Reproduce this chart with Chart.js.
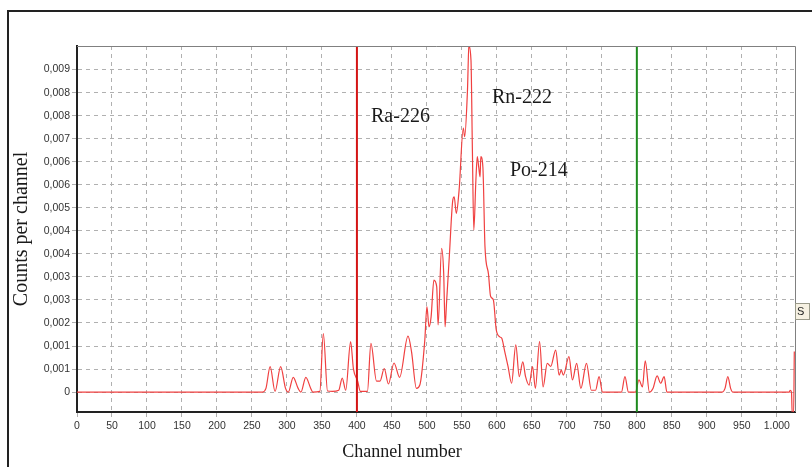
<!DOCTYPE html>
<html>
<head>
<meta charset="utf-8">
<script src="https://cdn.jsdelivr.net/npm/chart.js@4/dist/chart.umd.min.js"></script>
<style>
  html, body { margin: 0; padding: 0; background: #fff; }
  #wrap { position: relative; width: 812px; height: 467px; }
</style>
</head>
<body>
<div id="wrap"><canvas id="spectrum" width="812" height="467"></canvas></div>
<script>
// channel / counts pairs
const channels = [
  0, 265, 270, 276, 283, 291, 298, 302, 309, 316, 320, 327, 334, 337, 347,
  352, 358, 365, 374, 379, 384, 391, 395, 401, 405, 415, 420, 428, 433, 439,
  445, 453, 461, 473, 478, 485, 490, 497, 500, 503, 506, 510, 514, 516, 521,
  524, 526, 528, 532, 537, 539, 542, 546, 552, 554, 558, 560, 563, 565, 567,
  570, 572, 574, 576, 577, 580, 583, 588, 591, 595, 599, 604, 607, 611, 616,
  621, 627, 632, 637, 641, 646, 651, 655, 661, 666, 672, 677, 684, 689, 692,
  695, 703, 708, 714, 720, 728, 735, 741, 746, 751, 778, 783, 788, 798, 803,
  808, 812, 818, 823, 829, 834, 839, 843, 922, 926, 930, 934, 937, 1018, 1019,
  1021, 1022, 1024, 1025
];
const counts = [
  0, 0, 0.0001, 0.00069, 0.00002, 0.00069, 0.0001, 0, 0.0004, 0.0001, 0, 0.0004, 0.0001, 0, 0.00002,
  0.00159, 0.00003, 0.00002, 0.00005, 0.00038, 0.00005, 0.00137, 0.00063, 0.0003, 0.00002, 0.00002, 0.00132, 0.0003, 0.0003, 0.00064,
  0.00022, 0.00079, 0.0004, 0.00152, 0.0011, 0.0001, 0.0002, 0.00141, 0.00232, 0.00177, 0.00204, 0.00304, 0.00286, 0.00182, 0.0039,
  0.00322, 0.00177, 0.0024, 0.00367, 0.00521, 0.0053, 0.00485, 0.00548, 0.00716, 0.00693, 0.0082, 0.0094, 0.009, 0.00657, 0.0044,
  0.00575, 0.00639, 0.00611, 0.00584, 0.00639, 0.0061, 0.00394, 0.0032, 0.0026, 0.0025, 0.0017, 0.0015, 0.00146, 0.00112, 0.00069,
  0.00024, 0.00128, 0.00042, 0.00082, 0.00042, 0.00019, 0.00069, 0.0001, 0.00137, 0.00014, 0.00078, 0.0007, 0.00114, 0.00046, 0.0006,
  0.00046, 0.00096, 0.00033, 0.00078, 0.0001, 0.00078, 0.00005, 0.00005, 0.00042, 0, 0, 0.00042, 0, 0, 0.00033,
  0.00014, 0.00085, 0, 0.0001, 0.00044, 0.00024, 0.00042, 0, 0, 0.0001, 0.00042, 0.0001, 0, 0, 0.00005,
  0, -0.0006, -0.0006, 0.0011
];

// energy window markers
const raChannel = 400;
const poChannel = 800;

// axes
const xMin = 0;
const xMax = 1026;
const yMin = -0.00054;
const yMax = 0.00939;
const xTickValues = [0, 50, 100, 150, 200, 250, 300, 350, 400, 450, 500, 550, 600, 650, 700, 750, 800, 850, 900, 950, 1000];
const xTickLabels = ["0", "50", "100", "150", "200", "250", "300", "350", "400", "450", "500", "550", "600", "650", "700", "750", "800", "850", "900", "950", "1.000"];
const yTickValues = [0, 0.000625, 0.00125, 0.001875, 0.0025, 0.003125, 0.00375, 0.004375, 0.005, 0.005625, 0.00625, 0.006875, 0.0075, 0.008125, 0.00875];
const yTickLabels = ["0", "0,001", "0,001", "0,002", "0,003", "0,003", "0,004", "0,004", "0,005", "0,006", "0,006", "0,007", "0,008", "0,008", "0,009"];

const peakLabels = ["Ra-226", "Rn-222", "Po-214"];

/* --------------------------------------------
   Extra drawing: frame, plot border, texts
-------------------------------------------- */
const decor = {
  id: "decor",
  beforeDraw(chart) {
    const ctx = chart.ctx;
    ctx.save();
    ctx.strokeStyle = "#222";
    ctx.lineWidth = 2;
    ctx.beginPath();
    ctx.moveTo(8, 470);
    ctx.lineTo(8, 11);
    ctx.lineTo(815, 11);
    ctx.stroke();
    ctx.restore();
  },
  afterDraw(chart) {
    const ctx = chart.ctx;
    const a = chart.chartArea;
    ctx.save();
    // top / right border of the plot
    ctx.strokeStyle = "#808080";
    ctx.lineWidth = 1;
    ctx.beginPath();
    ctx.moveTo(a.left, a.top + 0.5);
    ctx.lineTo(a.right + 0.5, a.top + 0.5);
    ctx.lineTo(a.right + 0.5, a.bottom);
    ctx.stroke();

    // peak names
    ctx.fillStyle = "#1a1a1a";
    ctx.font = "20px 'Liberation Serif'";
    ctx.textBaseline = "middle";
    ctx.textAlign = "left";
    ctx.fillText(peakLabels[0], 371, 117);
    ctx.fillText(peakLabels[1], 492, 98);
    ctx.fillText(peakLabels[2], 510, 171);

    // x axis title
    ctx.font = "18px 'Liberation Serif'";
    ctx.textAlign = "center";
    ctx.fillText("Channel number", 402, 452);

    // little cut-off tag on the right edge
    ctx.fillStyle = "#f6f1e2";
    ctx.fillRect(795, 303, 14, 16);
    ctx.strokeStyle = "#9a9a8a";
    ctx.strokeRect(795.5, 303.5, 14, 16);
    ctx.fillStyle = "#222";
    ctx.font = "11px 'Liberation Sans'";
    ctx.textAlign = "left";
    ctx.fillText("S", 797, 312);
    ctx.restore();
  },
};

/* --------------------------------------------
   Chart
-------------------------------------------- */
const spectrumData = channels.map((c, i) => ({ x: c, y: counts[i] }));

new Chart(document.getElementById("spectrum"), {
  type: "line",
  data: {
    datasets: [
      {
        label: "Ra-226 window",
        data: [{ x: raChannel, y: yMin }, { x: raChannel, y: yMax }],
        borderColor: "#d41414",
        borderWidth: 2,
        pointRadius: 0,
      },
      {
        label: "Po-214 window",
        data: [{ x: poChannel, y: yMin }, { x: poChannel, y: yMax }],
        borderColor: "#1d8a1d",
        borderWidth: 2,
        pointRadius: 0,
      },
      {
        label: "Spectrum",
        data: spectrumData,
        borderColor: "#f04040",
        borderWidth: 1.2,
        pointRadius: 0,
        cubicInterpolationMode: "monotone",
      },
    ],
  },
  options: {
    responsive: false,
    animation: false,
    layout: { padding: { left: 0, top: 46, right: 17, bottom: 0 } },
    plugins: {
      legend: { display: false },
      tooltip: { enabled: false },
    },
    scales: {
      x: {
        type: "linear",
        min: xMin,
        max: xMax,
        afterBuildTicks: (scale) => {
          scale.ticks = xTickValues.map((v) => ({ value: v }));
        },
        afterFit: (scale) => {
          scale.height = 55;
        },
        ticks: {
          maxRotation: 0,
          autoSkip: false,
          padding: 3,
          color: "#333",
          font: { family: "'Liberation Sans'", size: 10.5 },
          callback: (v, i) => xTickLabels[i],
        },
        grid: {
          color: "#b0b0b0",
          tickColor: "#b0b0b0",
          tickLength: 5,
        },
        border: { color: "#222", width: 2, dash: [4, 4] },
      },
      y: {
        type: "linear",
        min: yMin,
        max: yMax,
        afterBuildTicks: (scale) => {
          scale.ticks = yTickValues.map((v) => ({ value: v }));
        },
        afterFit: (scale) => {
          scale.width = 77;
        },
        ticks: {
          autoSkip: false,
          padding: 2,
          color: "#333",
          font: { family: "'Liberation Sans'", size: 10.5 },
          callback: (v, i) => yTickLabels[i],
        },
        grid: {
          color: "#b0b0b0",
          tickColor: "#b0b0b0",
          tickLength: 5,
        },
        border: { color: "#222", width: 2, dash: [4, 4] },
        title: {
          display: true,
          text: "Counts per channel",
          color: "#1a1a1a",
          font: { family: "'Liberation Serif'", size: 20 },
          padding: { top: 10, bottom: 0 },
        },
      },
    },
  },
  plugins: [decor],
});
</script>
</body>
</html>
